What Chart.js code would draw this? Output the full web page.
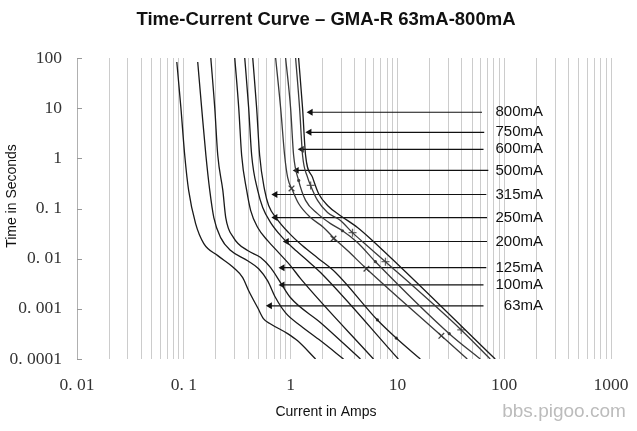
<!DOCTYPE html>
<html lang="en">
<head>
<meta charset="UTF-8">
<title>Time-Current Curve - GMA-R 63mA-800mA</title>
<style>
  html, body { margin: 0; padding: 0; background: #fff; }
  #wrap { width: 637px; height: 431px; }
</style>
</head>
<body>
<div id="wrap"><canvas id="chart" width="637" height="431"></canvas></div>
<script src="https://cdn.jsdelivr.net/npm/chart.js"></script>
<script>
// axis ticks
const xTickValues = [0.01, 0.1, 1, 10, 100, 1000];
const xTickLabels = ['0. 01', '0. 1', '1', '10', '100', '1000'];
const yTickValues = [0.0001, 0.001, 0.01, 0.1, 1, 10, 100];
const yTickLabels = ['0. 0001', '0. 001', '0. 01', '0. 1', '1', '10', '100'];

// fuse curves: current (A) vs time (s)
const amps_63mA = [0.086, 0.094, 0.102, 0.111, 0.129, 0.154, 0.208, 0.293, 0.356, 0.405, 0.492, 0.559, 0.650, 0.938, 1.163, 1.713];
const secs_63mA = [83, 10, 1.15, 0.229, 0.050, 0.020, 0.0115, 0.0066, 0.0042, 0.0023, 0.00105, 0.00063, 0.00050, 0.00032, 0.00023, 0.0001];
const amps_100mA = [0.135, 0.147, 0.161, 0.175, 0.191, 0.222, 0.275, 0.396, 0.502, 0.610, 0.724, 0.898, 1.24, 1.91, 3.13];
const secs_100mA = [83, 10, 1.15, 0.229, 0.066, 0.026, 0.0145, 0.0091, 0.0063, 0.0036, 0.00166, 0.00083, 0.00046, 0.00023, 0.0001];
const amps_125mA = [0.179, 0.195, 0.208, 0.232, 0.247, 0.293, 0.396, 0.524, 0.650, 0.807, 1.0, 1.91, 4.51];
const secs_125mA = [100, 10, 1.15, 0.229, 0.066, 0.026, 0.0145, 0.0105, 0.0066, 0.0033, 0.00166, 0.00053, 0.0001];
const amps_200mA = [0.300, 0.327, 0.348, 0.388, 0.423, 0.492, 0.610, 0.772, 1.0, 1.24, 5.97];
const secs_200mA = [100, 10, 1.15, 0.229, 0.091, 0.0417, 0.0229, 0.0132, 0.0072, 0.0040, 0.0001];
const amps_250mA = [0.372, 0.405, 0.432, 0.492, 0.548, 0.650, 0.824, 1.067, 1.442, 1.907, 10.2];
const secs_250mA = [100, 10, 1.15, 0.229, 0.105, 0.0525, 0.0275, 0.0159, 0.0091, 0.0053, 0.0001];
const amps_315mA = [0.442, 0.481, 0.513, 0.572, 0.623, 0.740, 0.958, 1.294, 1.827, 2.634, 6.50, 9.79, 16.4];
const secs_315mA = [100, 10, 1.15, 0.229, 0.115, 0.063, 0.033, 0.018, 0.010, 0.0053, 0.00060, 0.00026, 0.0001];
const amps_500mA = [0.724, 0.807, 0.879, 0.938, 1.044, 1.188, 1.538, 2.034, 2.578, 3.41, 5.13, 25.8, 45.1];
const secs_500mA = [100, 10, 1.15, 0.417, 0.229, 0.126, 0.066, 0.042, 0.025, 0.0145, 0.0063, 0.00029, 0.0001];
const amps_600mA = [0.898, 1.0, 1.067, 1.188, 1.381, 1.788, 2.365, 3.062, 4.228, 6.23, 30.6, 59.7];
const secs_600mA = [100, 10, 1.15, 0.363, 0.145, 0.079, 0.050, 0.036, 0.021, 0.0087, 0.00032, 0.0001];
const amps_750mA = [1.114, 1.214, 1.294, 1.442, 1.538, 1.788, 2.217, 2.933, 3.797, 4.811, 7.727, 39.6, 74.0];
const secs_750mA = [100, 10, 1.15, 0.417, 0.288, 0.145, 0.083, 0.0575, 0.033, 0.021, 0.0087, 0.00038, 0.0001];
const amps_800mA = [1.188, 1.294, 1.381, 1.605, 1.827, 2.217, 2.933, 4.228, 5.594, 82.4];
const secs_800mA = [100, 10, 1.15, 0.417, 0.1995, 0.115, 0.072, 0.042, 0.025, 0.0001];

// test point markers on some curves
const markX_amps = [1.02, 2.52, 5.13, 25.8];
const markX_secs = [0.251, 0.0251, 0.0063, 0.00029];
const markDot_amps = [1.19, 3.06, 6.23, 30.6, 6.50, 9.79];
const markDot_secs = [0.363, 0.036, 0.0087, 0.00032, 0.00060, 0.00026];
const markPlus_amps = [1.54, 3.80, 7.73, 39.6];
const markPlus_secs = [0.288, 0.033, 0.0087, 0.00038];

// arrows and their labels
const arrowLabels = ['800mA', '750mA', '600mA', '500mA', '315mA', '250mA', '200mA', '125mA', '100mA', '63mA'];
const arrowSecs = [8.3, 3.3, 1.51, 0.575, 0.19, 0.066, 0.022, 0.0066, 0.0030, 0.00115];
const arrowHeadAmps = [1.54, 1.50, 1.27, 1.14, 0.72, 0.72, 0.92, 0.84, 0.84, 0.64];
const arrowTailAmps = [62, 65, 64, 71, 68, 69, 69, 68, 64, 64];
const labelRightAmps = 231;

const curves = [
    [amps_63mA, secs_63mA], [amps_100mA, secs_100mA], [amps_125mA, secs_125mA],
    [amps_200mA, secs_200mA], [amps_250mA, secs_250mA], [amps_315mA, secs_315mA],
    [amps_500mA, secs_500mA], [amps_600mA, secs_600mA], [amps_750mA, secs_750mA],
    [amps_800mA, secs_800mA]
];

function toPoints(xs, ys) {
    return xs.map((v, i) => ({ x: v, y: ys[i] }));
}

const datasets = [];
curves.forEach((c, i) => {
    datasets.push({
        data: toPoints(c[0], c[1]),
        showLine: true,
        borderColor: i >= 6 && i <= 8 ? '#3a3a3a' : '#1a1a1a',
        borderWidth: 1.3,
        pointRadius: 0,
        cubicInterpolationMode: 'monotone'
    });
});

arrowLabels.forEach((lbl, i) => {
    datasets.push({
        data: [{ x: arrowHeadAmps[i], y: arrowSecs[i] }, { x: arrowTailAmps[i], y: arrowSecs[i] }],
        showLine: true,
        borderColor: '#111',
        backgroundColor: '#111',
        borderWidth: 1.2,
        pointStyle: 'triangle',
        pointRotation: 270,
        pointRadius: ctx => ctx.dataIndex === 0 ? 4 : 0,
        pointBorderWidth: 0
    });
});

datasets.push({ data: toPoints(markX_amps, markX_secs), pointStyle: 'crossRot', pointRadius: 4, borderColor: '#444', borderWidth: 1.3 });
datasets.push({ data: toPoints(markDot_amps, markDot_secs), pointStyle: 'circle', pointRadius: 1.6, borderColor: '#444', backgroundColor: '#444', borderWidth: 0 });
datasets.push({ data: toPoints(markPlus_amps, markPlus_secs), pointStyle: 'cross', pointRadius: 4, borderColor: '#666', borderWidth: 1.3 });

// every 1..9 x decade gets a grid line
const xGridValues = [];
xTickValues.slice(0, -1).forEach(d => {
    for (let m = 1; m <= 9; m++) xGridValues.push(d * m);
});
xGridValues.push(xTickValues[xTickValues.length - 1]);

function labelFor(values, labels, v) {
    const i = values.findIndex(t => Math.abs(t - v) / t < 1e-6);
    return i >= 0 ? labels[i] : '';
}

const decorations = {
    id: 'decorations',
    afterDraw(chart) {
        const { ctx, scales: { x, y } } = chart;
        ctx.save();
        // little inward ticks on the time axis
        ctx.strokeStyle = '#999';
        ctx.lineWidth = 1;
        yTickValues.forEach(v => {
            const py = Math.round(y.getPixelForValue(v)) + 0.5;
            ctx.beginPath();
            ctx.moveTo(x.left, py);
            ctx.lineTo(x.left + 5, py);
            ctx.stroke();
        });
        // arrow labels
        ctx.fillStyle = '#111';
        ctx.font = '15px "Liberation Sans", Arial, sans-serif';
        ctx.textAlign = 'right';
        ctx.textBaseline = 'middle';
        arrowLabels.forEach((lbl, i) => {
            ctx.fillText(lbl, x.getPixelForValue(labelRightAmps), y.getPixelForValue(arrowSecs[i]));
        });
        // titles
        ctx.textAlign = 'center';
        ctx.font = 'bold 18.5px "Liberation Sans", Arial, sans-serif';
        ctx.fillText('Time-Current Curve \u2013 GMA-R 63mA-800mA', 326, 20);
        ctx.font = '14px "Liberation Sans", Arial, sans-serif';
        ctx.fillText('Current in Amps', 326, 412);
        ctx.fillStyle = '#bcbcbc';
        ctx.font = '19px "Liberation Sans", Arial, sans-serif';
        ctx.fillText('bbs.pigoo.com', 564, 412);
        ctx.fillStyle = '#111';
        ctx.translate(12, 196);
        ctx.rotate(-Math.PI / 2);
        ctx.font = '14px "Liberation Sans", Arial, sans-serif';
        ctx.fillText('Time in Seconds', 0, 0);
        ctx.restore();
    }
};

new Chart(document.getElementById('chart'), {
    type: 'scatter',
    data: { datasets: datasets },
    options: {
        responsive: false,
        animation: false,
        layout: { padding: { top: 58, right: 26, left: 0, bottom: 0 } },
        plugins: { legend: { display: false }, title: { display: false }, tooltip: { enabled: false } },
        scales: {
            x: {
                type: 'logarithmic',
                min: 0.01,
                max: 1000,
                afterBuildTicks: s => { s.ticks = xGridValues.map(v => ({ value: v })); },
                // label padding would otherwise push the plot's right edge in
                afterFit: s => { s.height = 72; s.paddingRight = 0; s.paddingLeft = 0; },
                grid: { color: '#cccccc', lineWidth: 1, drawTicks: false },
                border: { display: false },
                ticks: {
                    autoSkip: false,
                    maxRotation: 0,
                    padding: 16,
                    color: '#333',
                    font: { family: '"Liberation Serif", "Times New Roman", serif', size: 17.5 },
                    callback: v => labelFor(xTickValues, xTickLabels, v)
                }
            },
            y: {
                type: 'logarithmic',
                min: 0.0001,
                max: 100,
                afterBuildTicks: s => { s.ticks = yTickValues.map(v => ({ value: v })); },
                afterFit: s => { s.width = 77; },
                grid: { display: false, drawTicks: false },
                border: { display: true, color: '#b0b0b0', width: 1 },
                ticks: {
                    padding: 15,
                    color: '#333',
                    font: { family: '"Liberation Serif", "Times New Roman", serif', size: 17.5 },
                    callback: v => labelFor(yTickValues, yTickLabels, v)
                }
            }
        }
    },
    plugins: [decorations]
});
</script>
</body>
</html>
